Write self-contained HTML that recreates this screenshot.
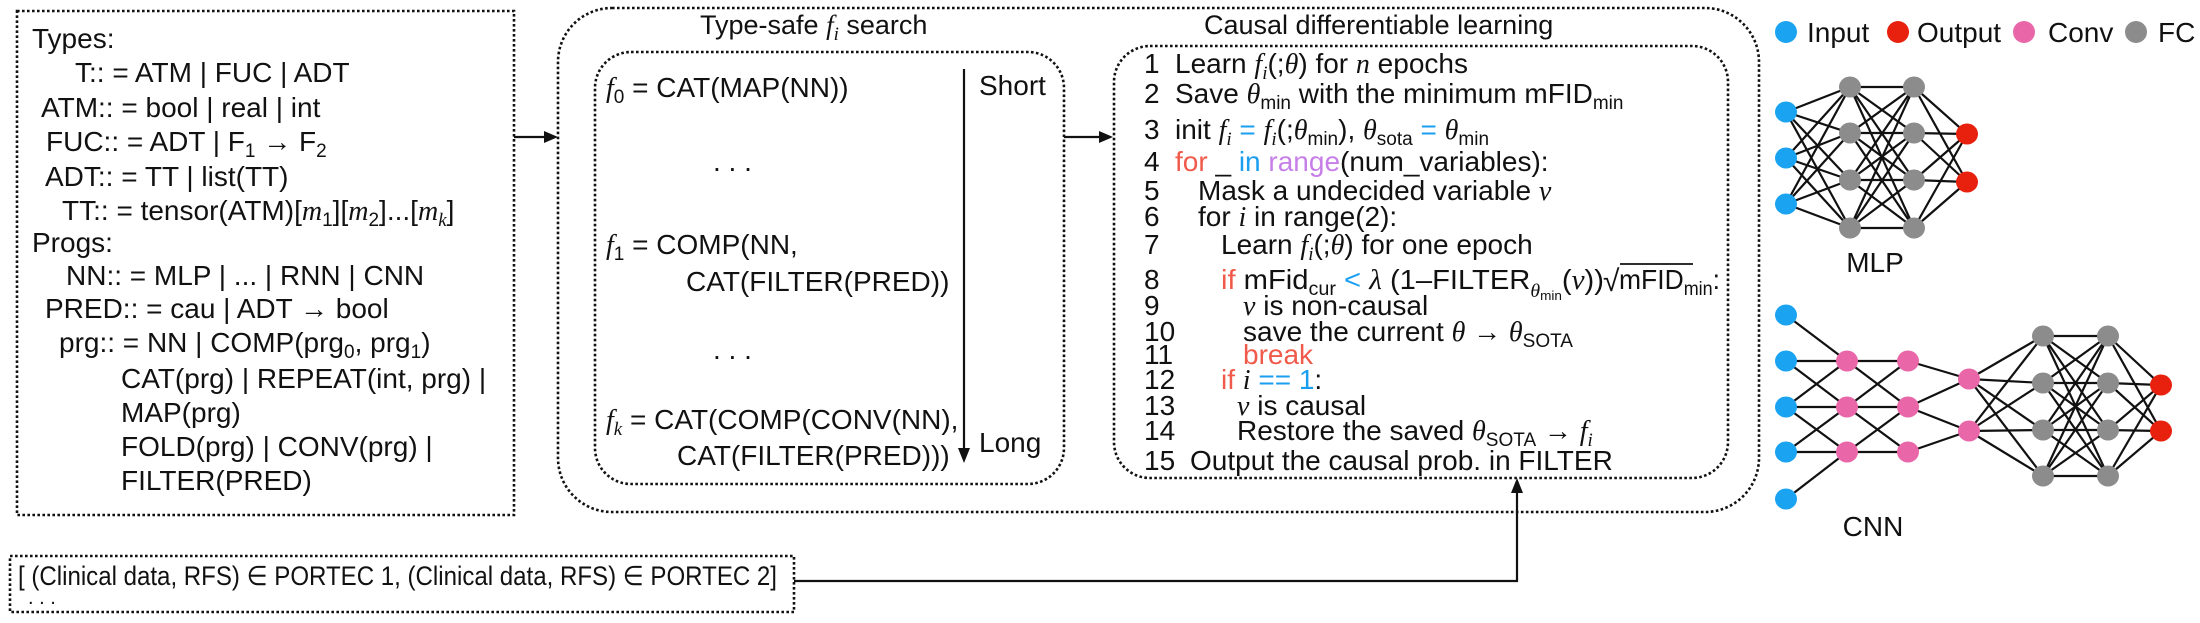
<!DOCTYPE html>
<html><head><meta charset="utf-8"><style>
html,body{margin:0;padding:0;background:#fff;}
svg{display:block;}
text{font-family:"Liberation Sans",Arial,sans-serif;font-size:28px;fill:#111;}
.i{font-style:italic;font-family:"Liberation Serif",serif;}
.s{font-size:19px;}
.r{fill:#f05a4a;} .b{fill:#1a9ef0;} .p{fill:#c77fe8;}
.d{fill:none;stroke:#111;stroke-width:2.6;stroke-dasharray:2.6 2.4;}
</style></head><body>
<svg width="2200" height="623" viewBox="0 0 2200 623" xmlns="http://www.w3.org/2000/svg">
<rect class="d" x="17" y="11" width="497" height="504"/>
<rect class="d" x="10" y="556" width="784" height="56"/>
<rect class="d" x="558" y="8" width="1201" height="504" rx="54"/>
<rect class="d" x="595" y="52" width="469" height="432" rx="36"/>
<rect class="d" x="1114" y="46" width="614" height="432" rx="36"/>

<g stroke="#111" stroke-width="2.2" fill="none">
<line x1="514" y1="137" x2="548" y2="137"/>
<line x1="1064" y1="137" x2="1102" y2="137"/>
<polyline points="794,581 1517,581 1517,490"/>
<line x1="964" y1="69" x2="964" y2="450"/>
</g>
<g fill="#111">
<polygon points="558,137 544,131 544,143"/>
<polygon points="1113,137 1099,131 1099,143"/>
<polygon points="1517,478 1511,493 1523,493"/>
<polygon points="964,463 958,448 970,448"/>
</g>

<text x="32" y="48">Types:</text>
<text x="75" y="82">T:: = ATM | FUC | ADT</text>
<text x="41" y="117">ATM:: = bool | real | int</text>
<text x="46" y="151">FUC:: = ADT | F<tspan class="s" dy="6">1</tspan><tspan dy="-6"> → F</tspan><tspan class="s" dy="6">2</tspan></text>
<text x="45" y="186">ADT:: = TT | list(TT)</text>
<text x="62" y="220">TT:: = tensor(ATM)[<tspan class="i">m</tspan><tspan class="s" dy="6">1</tspan><tspan dy="-6">][</tspan><tspan class="i">m</tspan><tspan class="s" dy="6">2</tspan><tspan dy="-6">]...[</tspan><tspan class="i">m</tspan><tspan class="s i" dy="6">k</tspan><tspan dy="-6">]</tspan></text>
<text x="32" y="252">Progs:</text>
<text x="66" y="285">NN:: = MLP | ... | RNN | CNN</text>
<text x="45" y="318">PRED:: = cau | ADT → bool</text>
<text x="59" y="352">prg:: = NN | COMP(prg<tspan class="s" dy="6">0</tspan><tspan dy="-6">, prg</tspan><tspan class="s" dy="6">1</tspan><tspan dy="-6">)</tspan></text>
<text x="121" y="388">CAT(prg) | REPEAT(int, prg) |</text>
<text x="121" y="422">MAP(prg)</text>
<text x="121" y="456">FOLD(prg) | CONV(prg) |</text>
<text x="121" y="490">FILTER(PRED)</text>

<text x="18" y="585" textLength="759" lengthAdjust="spacingAndGlyphs" style="font-size:27px">[ (Clinical data, RFS) ∈ PORTEC 1, (Clinical data, RFS) ∈ PORTEC 2]</text>
<text x="28" y="604" style="font-size:20px">. . .</text>

<text x="700" y="34" style="font-size:27px">Type-safe <tspan class="i">f</tspan><tspan class="s i" dy="6">i</tspan><tspan dy="-6"> search</tspan></text>
<text x="606" y="97"><tspan class="i">f</tspan><tspan class="s" dy="6">0</tspan><tspan dy="-6"> = CAT(MAP(NN))</tspan></text>
<text x="713" y="171">. . .</text>
<text x="606" y="254"><tspan class="i">f</tspan><tspan class="s" dy="6">1</tspan><tspan dy="-6"> = COMP(NN,</tspan></text>
<text x="686" y="291">CAT(FILTER(PRED))</text>
<text x="713" y="359">. . .</text>
<text x="606" y="429"><tspan class="i">f</tspan><tspan class="s i" dy="6">k</tspan><tspan dy="-6"> = CAT(COMP(CONV(NN),</tspan></text>
<text x="677" y="465">CAT(FILTER(PRED)))</text>
<text x="979" y="95">Short</text>
<text x="979" y="452">Long</text>

<text x="1204" y="34" style="font-size:27px">Causal differentiable learning</text>
<g>
<text x="1144" y="73">1</text><text x="1175" y="73">Learn <tspan class="i">f</tspan><tspan class="s i" dy="6">i</tspan><tspan dy="-6">(;</tspan><tspan class="i">θ</tspan>) for <tspan class="i">n</tspan> epochs</text>
<text x="1144" y="103">2</text><text x="1175" y="103">Save <tspan class="i">θ</tspan><tspan class="s" dy="6">min</tspan><tspan dy="-6"> with the minimum  mFID</tspan><tspan class="s" dy="6">min</tspan></text>
<text x="1144" y="139">3</text><text x="1175" y="139">init <tspan class="i">f</tspan><tspan class="s i" dy="6">i</tspan><tspan dy="-6" class="b"> = </tspan><tspan class="i">f</tspan><tspan class="s i" dy="6">i</tspan><tspan dy="-6">(;</tspan><tspan class="i">θ</tspan><tspan class="s" dy="6">min</tspan><tspan dy="-6">), </tspan><tspan class="i">θ</tspan><tspan class="s" dy="6">sota</tspan><tspan dy="-6" class="b"> = </tspan><tspan class="i">θ</tspan><tspan class="s" dy="6">min</tspan></text>
<text x="1144" y="171">4</text><text x="1175" y="171"><tspan class="r">for</tspan> _ <tspan class="b">in</tspan> <tspan class="p">range</tspan>(num_variables):</text>
<text x="1144" y="200">5</text><text x="1198" y="200">Mask a undecided variable <tspan class="i">ν</tspan></text>
<text x="1144" y="226">6</text><text x="1198" y="226">for <tspan class="i">i</tspan> in range(2):</text>
<text x="1144" y="254">7</text><text x="1221" y="254">Learn <tspan class="i">f</tspan><tspan class="s i" dy="6">i</tspan><tspan dy="-6">(;</tspan><tspan class="i">θ</tspan>) for one epoch</text>
<text x="1144" y="289">8</text><text id="l8" x="1221" y="289" textLength="383" lengthAdjust="spacingAndGlyphs"><tspan class="r">if</tspan> mFid<tspan class="s" dy="6">cur</tspan><tspan dy="-6" class="b"> &lt; </tspan><tspan class="i">λ</tspan> (1–FILTER<tspan class="s i" dy="8">θ</tspan><tspan style="font-size:13px" dy="3">min</tspan><tspan dy="-11">(</tspan><tspan class="i">ν</tspan>))</text>
<text x="1603" y="291" style="font-size:30px">√</text>
<line x1="1620" y1="264" x2="1693" y2="264" stroke="#111" stroke-width="1.8"/>
<text x="1619" y="289" textLength="101" lengthAdjust="spacingAndGlyphs">mFID<tspan class="s" dy="6">min</tspan><tspan dy="-6">:</tspan></text>
<text x="1144" y="315">9</text><text x="1243" y="315"><tspan class="i">ν</tspan> is non-causal</text>
<text x="1144" y="341">10</text><text x="1243" y="341">save the current <tspan class="i">θ</tspan> → <tspan class="i">θ</tspan><tspan class="s" dy="6">SOTA</tspan></text>
<text x="1144" y="364">11</text><text x="1243" y="364" class="r">break</text>
<text x="1144" y="389">12</text><text x="1221" y="389"><tspan class="r">if</tspan> <tspan class="i">i</tspan><tspan class="b"> == 1</tspan>:</text>
<text x="1144" y="415">13</text><text x="1237" y="415"><tspan class="i">ν</tspan> is causal</text>
<text x="1144" y="440">14</text><text x="1237" y="440">Restore the saved <tspan class="i">θ</tspan><tspan class="s" dy="6">SOTA</tspan><tspan dy="-6"> → </tspan><tspan class="i">f</tspan><tspan class="s i" dy="6">i</tspan></text>
<text x="1144" y="470">15</text><text x="1190" y="470">Output the causal prob. in FILTER</text>
</g>

<ellipse cx="1786" cy="32" rx="11" ry="11" fill="#1aa3f0"/><text x="1807" y="42">Input</text>
<ellipse cx="1898" cy="32" rx="11" ry="11" fill="#e8210e"/><text x="1917" y="42">Output</text>
<ellipse cx="2024" cy="32" rx="11" ry="11" fill="#e966a8"/><text x="2048" y="42">Conv</text>
<ellipse cx="2136" cy="32" rx="11" ry="11" fill="#8c8c8c"/><text x="2158" y="42">FC</text>

<g stroke="#111" stroke-width="2.2" id="mlp"></g>
<g id="mlpn"></g>
<text x="1875" y="272" text-anchor="middle">MLP</text>
<g stroke="#111" stroke-width="2.2" id="cnn"></g>
<g id="cnnn"></g>
<text x="1873" y="536" text-anchor="middle">CNN</text>
</svg>
<script>
(function(){
var NS="http://www.w3.org/2000/svg";
function L(g,a,b){var l=document.createElementNS(NS,"line");l.setAttribute("x1",a[0]);l.setAttribute("y1",a[1]);l.setAttribute("x2",b[0]);l.setAttribute("y2",b[1]);g.appendChild(l);}
function N(g,p,c){var e=document.createElementNS(NS,"ellipse");e.setAttribute("cx",p[0]);e.setAttribute("cy",p[1]);e.setAttribute("rx",11);e.setAttribute("ry",10.5);e.setAttribute("fill",c);g.appendChild(e);}
function all(g,A,B){A.forEach(function(a){B.forEach(function(b){L(g,a,b);});});}
var B="#1aa3f0",R="#e8210e",P="#e966a8",G="#8c8c8c";
var m=document.getElementById("mlp"),mn=document.getElementById("mlpn");
var I=[[1786,112],[1786,158],[1786,204]];
var H1=[87,133,180,228].map(function(y){return[1850,y];});
var H2=[87,133,180,228].map(function(y){return[1914,y];});
var O=[[1967,134],[1967,182]];
all(m,I,H1);all(m,H1,H2);all(m,H2,O);
I.forEach(function(p){N(mn,p,B);});H1.concat(H2).forEach(function(p){N(mn,p,G);});O.forEach(function(p){N(mn,p,R);});
var c=document.getElementById("cnn"),cn=document.getElementById("cnnn");
var CI=[315,361,407,452,499].map(function(y){return[1786,y];});
var C1=[361,407,452].map(function(y){return[1847,y];});
var C2=[361,407,452].map(function(y){return[1908,y];});
var C3=[[1969,379],[1969,431]];
var F1=[336,383,430,476].map(function(y){return[2043,y];});
var F2=[336,383,430,476].map(function(y){return[2108,y];});
var CO=[[2161,385],[2161,431]];
for(var i=0;i<5;i++){for(var j=0;j<3;j++){var k=j+1;if(Math.abs(i-k)<=1)L(c,CI[i],C1[j]);}}
for(var i=0;i<3;i++)for(var j=0;j<3;j++)if(Math.abs(i-j)<=1)L(c,C1[i],C2[j]);
L(c,C2[0],C3[0]);L(c,C2[1],C3[0]);L(c,C2[1],C3[1]);L(c,C2[2],C3[1]);
all(c,C3,F1);all(c,F1,F2);all(c,F2,CO);
CI.forEach(function(p){N(cn,p,B);});C1.concat(C2,C3).forEach(function(p){N(cn,p,P);});F1.concat(F2).forEach(function(p){N(cn,p,G);});CO.forEach(function(p){N(cn,p,R);});
})();
</script>
</body></html>
